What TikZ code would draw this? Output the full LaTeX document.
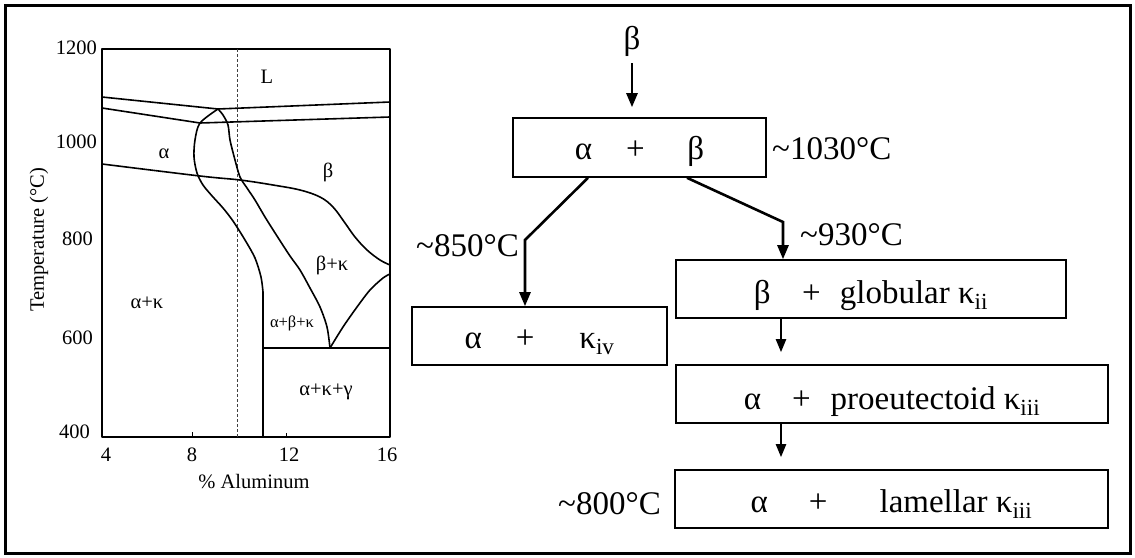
\documentclass[tikz,border=0pt]{standalone}
\usepackage{fontspec}
\setmainfont{Liberation Serif}
\usetikzlibrary{arrows.meta,calc}
\begin{document}
\begin{tikzpicture}[x=1pt,y=-1pt,
  fc/.style={font=\fontsize{33}{40}\selectfont, inner sep=0pt},
  pd/.style={font=\fontsize{20.5}{24}\selectfont, inner sep=0pt},
  pds/.style={font=\fontsize{16.5}{20}\selectfont, inner sep=0pt},
  phase/.style={line width=1.6pt, line join=round, line cap=round},
  fbox/.style={draw, line width=1.6pt, inner sep=0pt, text depth=0pt,
     font=\fontsize{33}{40}\selectfont},
  arr/.style={line width=2.6pt, -{Triangle[length=14pt,width=11pt]}},
  arrb/.style={line width=2.2pt, -{Triangle[length=13pt,width=10pt]}},
  ]
\useasboundingbox (0,0) rectangle (1135,557);
\draw[line width=3pt] (5,5) rectangle (1130,553);

% ---------------- phase diagram ----------------
\draw[phase] (102,49) rectangle (390,437);
\draw[line width=0.8pt, densely dashed, black!75] (237,49) -- (237,437);
\draw[phase] (102,97) -- (218,109) -- (390,102);
\draw[phase] (102,108) -- (200,123) -- (390,117);
\draw[phase] plot[smooth, tension=0.6] coordinates {(102,164) (200,176) (240,180) (273,185) (300,190) (320,197) (333,207) (345,223) (355,237) (367,250) (380,260) (390,265)};
\draw[phase] plot[smooth] coordinates {(218,109) (200,123) (195,140) (194,157) (197,173) (203,185) (213,197) (223,208) (233,221) (245,240) (255,258) (261,277) (263,292)} -- (263,437);
\draw[phase] plot[smooth] coordinates {(218,109) (223,115) (228,125) (230,140) (235,160) (240,177) (247,188) (255,200) (265,217) (277,236) (290,256) (300,270) (310,288) (320,307) (327,327) (330,348)};
\draw[phase] plot[smooth] coordinates {(330,348) (343,327) (357,307) (370,290) (383,278) (390,274)};
\draw[phase] (263,348) -- (390,348);
\draw[line width=0.8pt] (192,437) -- (192,432);
\draw[line width=0.8pt] (286,437) -- (286,433);

\node[pd, anchor=east] (y1200) at (97,48) {1200};
\node[pd, anchor=east] (y1000) at (97,142) {1000};
\node[pd, anchor=east] (y800) at (93,239) {800};
\node[pd, anchor=east] (y600) at (93,338) {600};
\node[pd, anchor=east] (y400) at (90,432) {400};
\node[pd] (x4) at (106,455) {4};
\node[pd] (x8) at (192,455) {8};
\node[pd] (x12) at (289,455) {12};
\node[pd] (x16) at (387,455) {16};
\node[pd, anchor=base] (xlab) at (254,488) {\% Aluminum};
\node[pd, rotate=90] (ylab) at (39,240) {Temperature (°C)};

\node[pd, anchor=base] (pL) at (267,83) {L};
\node[pd, anchor=base] (pa) at (164,158) {α};
\node[pd, anchor=base] (pb) at (328,177) {β};
\node[pd, anchor=base] (pbk) at (332,270) {β+κ};
\node[pd, anchor=base] (pak) at (147,308) {α+κ};
\node[pds, anchor=base] (pabk) at (292,327) {α+β+κ};
\node[pd, anchor=base] (pakg) at (326,395) {α+κ+γ};

% ---------------- flow chart ----------------
\node[fc] (beta) at (632,41.5) {β};
\node[fbox, minimum width=253pt, minimum height=59pt, text height=23pt] (b1) at (639.5,147.5) {α\kern34pt+\kern42.5ptβ};
\node[fbox, minimum width=255pt, minimum height=58pt, text height=24pt] (b2) at (539.5,336) {α\kern34pt+\kern45ptκ\textsubscript{iv}};
\node[fbox, minimum width=390pt, minimum height=58pt, text height=28pt] (b3) at (871,289) {β\kern31.5pt+\kern19ptglobular κ\textsubscript{ii}};
\node[fbox, minimum width=432pt, minimum height=58pt, text height=30pt] (b4) at (892,394) {α\kern31pt+\kern20ptproeutectoid κ\textsubscript{iii}};
\node[fbox, minimum width=433pt, minimum height=58pt, text height=26pt] (b5) at (891.5,499) {α\kern41pt+\kern52ptlamellar κ\textsubscript{iii}};

\node[fc, anchor=base west] (t1030) at (772,159) {\textasciitilde1030°C};
\node[fc, anchor=base east] (t850) at (519,256) {\textasciitilde850°C};
\node[fc, anchor=base west] (t930) at (800,245) {\textasciitilde930°C};
\node[fc, anchor=base east] (t800) at (661,514) {\textasciitilde800°C};

\coordinate (lk) at (525,240);
\coordinate (rk) at (783,222);
\draw[arr, shorten <=6.5pt, shorten >=10pt] (beta.south) -- (beta.south |- b1.north);
\draw[arr] ([xshift=-51.5pt]b1.south) -- (lk) -- (lk |- b2.north);
\draw[arr] ([xshift=47.5pt]b1.south) -- (rk) -- (rk |- b3.north);
\draw[arrb, shorten >=12pt] ([xshift=-90pt]b3.south) -- ([xshift=-111pt]b4.north);
\draw[arrb, shorten >=12pt] ([xshift=-111pt]b4.south) -- ([xshift=-110.5pt]b5.north);
\end{tikzpicture}
\end{document}
